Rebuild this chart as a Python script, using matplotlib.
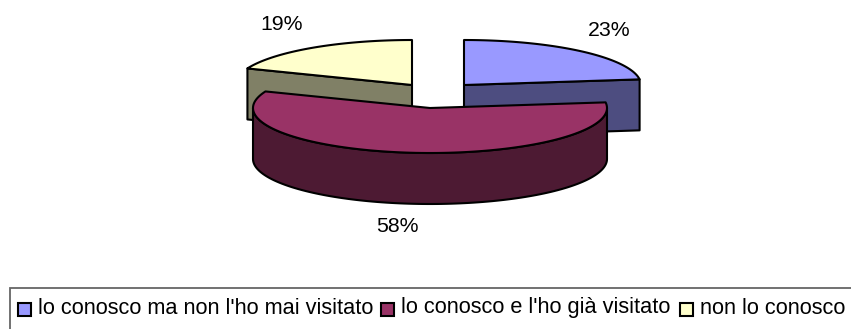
"""Exploded 3D pie chart, survey answers with a boxed legend below."""
import numpy as np
import matplotlib
matplotlib.use('Agg')
import matplotlib.pyplot as plt
from matplotlib.patches import Polygon, Rectangle

labels = ["lo conosco ma non l'ho mai visitato", "lo conosco e l'ho già visitato", "non lo conosco"]
values = [23, 58, 19]
top_colors = ['#9999ff', '#993366', '#ffffcc']
side_colors = ['#4d4d80', '#4d1a33', '#808066']

width_px = 851
height_px = 329
center = (438, 95)
radius_x = 177
radius_y = 45
depth = 51
line_w = 1.5
# apex shift of every slice from the pie centre, in pixels
offsets = [(26, -10), (-8, 13), (-26, -10)]
label_pos = [(609, 30), (397, 226), (282, 25)]
legend_swatch_x = [18, 381, 680]
legend_y = 309

plt.rcParams['font.family'] = ['Liberation Sans', 'DejaVu Sans']


def ellipse_points(apex, start, stop):
    """Rim points between two angles, clockwise in degrees from twelve o'clock"""
    angles = np.radians(np.linspace(start, stop, 120))
    return np.column_stack((apex[0] + radius_x * np.sin(angles), apex[1] - radius_y * np.cos(angles)))


def add_poly(ax, points, color):
    ax.add_patch(Polygon(points, closed=True, facecolor=color, edgecolor='black', linewidth=line_w,
                         joinstyle='round'))


fig = plt.figure(figsize=(width_px / 100, height_px / 100), dpi=100)
ax = fig.add_axes([0, 0, 1, 1])
ax.set_xlim(0, width_px)
ax.set_ylim(height_px, 0)
ax.axis('off')

edges = np.cumsum([0] + values) / sum(values) * 360
apexes = [(center[0] + dx, center[1] + dy) for dx, dy in offsets]
drop = np.array([0, depth])

# back slices first, the big front slice goes over them
for i in (2, 0, 1):
    apex = np.array(apexes[i])
    start, stop = edges[i], edges[i + 1]
    if i == 0:  # cut face on the leading edge
        end = ellipse_points(apex, stop, stop)[0]
        add_poly(ax, [apex, end, end + drop, apex + drop], side_colors[i])
    elif i == 2:
        end = ellipse_points(apex, start, start)[0]
        add_poly(ax, [apex, end, end + drop, apex + drop], side_colors[i])
    else:  # outer wall, visible on the lower half of the rim
        rim = ellipse_points(apex, max(start, 90), min(stop, 270))
        add_poly(ax, np.vstack((rim, rim[::-1] + drop)), side_colors[i])
    add_poly(ax, np.vstack(([apex], ellipse_points(apex, start, stop))), top_colors[i])

for i, value in enumerate(values):
    ax.text(label_pos[i][0], label_pos[i][1], f'{value}%', fontsize=15.3, ha='center', va='center')

ax.add_patch(Rectangle((9.5, 288), 860, 60, facecolor='white', edgecolor='#666666', linewidth=1.3))
for i, label in enumerate(labels):
    ax.add_patch(Rectangle((legend_swatch_x[i], legend_y - 6.5), 13, 13, facecolor=top_colors[i],
                           edgecolor='black', linewidth=1.5))
    ax.text(legend_swatch_x[i] + 20, legend_y - 1, label, fontsize=15.7, ha='left', va='center')

fig.savefig('out.png', dpi=100)
